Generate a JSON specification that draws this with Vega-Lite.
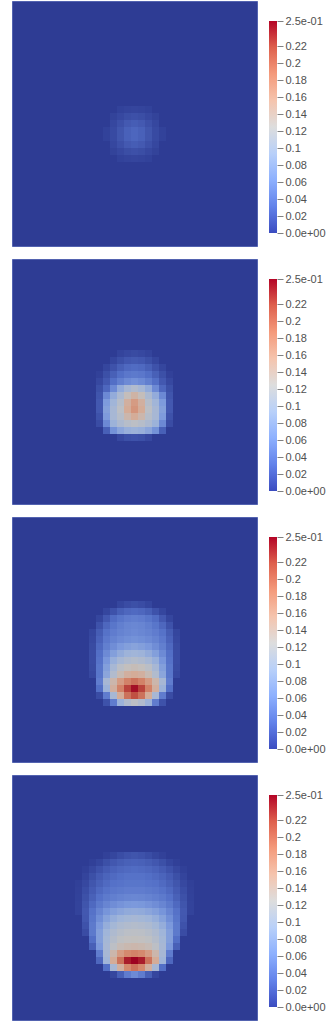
{
"$schema": "https://vega.github.io/schema/vega-lite/v6.json",
"background": "white",
"padding": {"left": 11, "top": 0, "right": 0, "bottom": 0},
"spacing": 11,
"config": {"view": {"stroke": null}},
"datasets": {
"bar": [{"lo": 0, "hi": 0.25}],
"p1": [
{"x":15,"y":15,"v":0.0034},{"x":16,"y":15,"v":0.005},{"x":17,"y":15,"v":0.0056},{"x":18,"y":15,"v":0.005},{"x":19,"y":15,"v":0.0034},
{"x":14,"y":16,"v":0.0039},{"x":15,"y":16,"v":0.0072},{"x":16,"y":16,"v":0.0105},{"x":17,"y":16,"v":0.0119},{"x":18,"y":16,"v":0.0105},{"x":19,"y":16,"v":0.0072},{"x":20,"y":16,"v":0.0039},
{"x":14,"y":17,"v":0.0064},{"x":15,"y":17,"v":0.0119},{"x":16,"y":17,"v":0.0173},{"x":17,"y":17,"v":0.0196},{"x":18,"y":17,"v":0.0173},{"x":19,"y":17,"v":0.0119},{"x":20,"y":17,"v":0.0064},
{"x":13,"y":18,"v":0.0034},{"x":14,"y":18,"v":0.0082},{"x":15,"y":18,"v":0.0153},{"x":16,"y":18,"v":0.022},{"x":17,"y":18,"v":0.025},{"x":18,"y":18,"v":0.022},{"x":19,"y":18,"v":0.0153},{"x":20,"y":18,"v":0.0082},{"x":21,"y":18,"v":0.0034},
{"x":13,"y":19,"v":0.0034},{"x":14,"y":19,"v":0.0082},{"x":15,"y":19,"v":0.0153},{"x":16,"y":19,"v":0.022},{"x":17,"y":19,"v":0.025},{"x":18,"y":19,"v":0.022},{"x":19,"y":19,"v":0.0153},{"x":20,"y":19,"v":0.0082},{"x":21,"y":19,"v":0.0034},
{"x":14,"y":20,"v":0.0064},{"x":15,"y":20,"v":0.0119},{"x":16,"y":20,"v":0.0173},{"x":17,"y":20,"v":0.0196},{"x":18,"y":20,"v":0.0173},{"x":19,"y":20,"v":0.0119},{"x":20,"y":20,"v":0.0064},
{"x":14,"y":21,"v":0.0039},{"x":15,"y":21,"v":0.0072},{"x":16,"y":21,"v":0.0105},{"x":17,"y":21,"v":0.0119},{"x":18,"y":21,"v":0.0105},{"x":19,"y":21,"v":0.0072},{"x":20,"y":21,"v":0.0039},
{"x":15,"y":22,"v":0.0034},{"x":16,"y":22,"v":0.005},{"x":17,"y":22,"v":0.0056},{"x":18,"y":22,"v":0.005},{"x":19,"y":22,"v":0.0034}
],
"p2": [
{"x":15,"y":13,"v":0.0047},{"x":16,"y":13,"v":0.0073},{"x":17,"y":13,"v":0.0087},{"x":18,"y":13,"v":0.0073},{"x":19,"y":13,"v":0.0047},
{"x":14,"y":14,"v":0.006},{"x":15,"y":14,"v":0.0116},{"x":16,"y":14,"v":0.016},{"x":17,"y":14,"v":0.0177},{"x":18,"y":14,"v":0.016},{"x":19,"y":14,"v":0.0116},{"x":20,"y":14,"v":0.006},
{"x":13,"y":15,"v":0.006},{"x":14,"y":15,"v":0.013},{"x":15,"y":15,"v":0.021},{"x":16,"y":15,"v":0.0263},{"x":17,"y":15,"v":0.0281},{"x":18,"y":15,"v":0.0263},{"x":19,"y":15,"v":0.021},{"x":20,"y":15,"v":0.013},{"x":21,"y":15,"v":0.006},
{"x":12,"y":16,"v":0.003},{"x":13,"y":16,"v":0.0116},{"x":14,"y":16,"v":0.021},{"x":15,"y":16,"v":0.03},{"x":16,"y":16,"v":0.0359},{"x":17,"y":16,"v":0.0379},{"x":18,"y":16,"v":0.0359},{"x":19,"y":16,"v":0.03},{"x":20,"y":16,"v":0.021},{"x":21,"y":16,"v":0.0116},{"x":22,"y":16,"v":0.003},
{"x":12,"y":17,"v":0.0073},{"x":13,"y":17,"v":0.0168},{"x":14,"y":17,"v":0.03},{"x":15,"y":17,"v":0.0421},{"x":16,"y":17,"v":0.051},{"x":17,"y":17,"v":0.0557},{"x":18,"y":17,"v":0.051},{"x":19,"y":17,"v":0.0421},{"x":20,"y":17,"v":0.03},{"x":21,"y":17,"v":0.0168},{"x":22,"y":17,"v":0.0073},
{"x":12,"y":18,"v":0.0116},{"x":13,"y":18,"v":0.0254},{"x":14,"y":18,"v":0.051},{"x":15,"y":18,"v":0.0829},{"x":16,"y":18,"v":0.1},{"x":17,"y":18,"v":0.11},{"x":18,"y":18,"v":0.1},{"x":19,"y":18,"v":0.0829},{"x":20,"y":18,"v":0.051},{"x":21,"y":18,"v":0.0254},{"x":22,"y":18,"v":0.0116},
{"x":12,"y":19,"v":0.0145},{"x":13,"y":19,"v":0.05},{"x":14,"y":19,"v":0.0829},{"x":15,"y":19,"v":0.105},{"x":16,"y":19,"v":0.13},{"x":17,"y":19,"v":0.145},{"x":18,"y":19,"v":0.13},{"x":19,"y":19,"v":0.105},{"x":20,"y":19,"v":0.0829},{"x":21,"y":19,"v":0.05},{"x":22,"y":19,"v":0.0145},
{"x":12,"y":20,"v":0.0168},{"x":13,"y":20,"v":0.065},{"x":14,"y":20,"v":0.095},{"x":15,"y":20,"v":0.115},{"x":16,"y":20,"v":0.15},{"x":17,"y":20,"v":0.17},{"x":18,"y":20,"v":0.15},{"x":19,"y":20,"v":0.115},{"x":20,"y":20,"v":0.095},{"x":21,"y":20,"v":0.065},{"x":22,"y":20,"v":0.0168},
{"x":12,"y":21,"v":0.0168},{"x":13,"y":21,"v":0.07},{"x":14,"y":21,"v":0.1},{"x":15,"y":21,"v":0.12},{"x":16,"y":21,"v":0.155},{"x":17,"y":21,"v":0.175},{"x":18,"y":21,"v":0.155},{"x":19,"y":21,"v":0.12},{"x":20,"y":21,"v":0.1},{"x":21,"y":21,"v":0.07},{"x":22,"y":21,"v":0.0168},
{"x":12,"y":22,"v":0.013},{"x":13,"y":22,"v":0.065},{"x":14,"y":22,"v":0.1},{"x":15,"y":22,"v":0.115},{"x":16,"y":22,"v":0.14},{"x":17,"y":22,"v":0.155},{"x":18,"y":22,"v":0.14},{"x":19,"y":22,"v":0.115},{"x":20,"y":22,"v":0.1},{"x":21,"y":22,"v":0.065},{"x":22,"y":22,"v":0.013},
{"x":12,"y":23,"v":0.0094},{"x":13,"y":23,"v":0.05},{"x":14,"y":23,"v":0.09},{"x":15,"y":23,"v":0.105},{"x":16,"y":23,"v":0.115},{"x":17,"y":23,"v":0.12},{"x":18,"y":23,"v":0.115},{"x":19,"y":23,"v":0.105},{"x":20,"y":23,"v":0.09},{"x":21,"y":23,"v":0.05},{"x":22,"y":23,"v":0.0094},
{"x":13,"y":24,"v":0.021},{"x":14,"y":24,"v":0.0569},{"x":15,"y":24,"v":0.076},{"x":16,"y":24,"v":0.087},{"x":17,"y":24,"v":0.09},{"x":18,"y":24,"v":0.087},{"x":19,"y":24,"v":0.076},{"x":20,"y":24,"v":0.0569},{"x":21,"y":24,"v":0.021},
{"x":15,"y":25,"v":0.0073},{"x":16,"y":25,"v":0.0116},{"x":17,"y":25,"v":0.013},{"x":18,"y":25,"v":0.0116},{"x":19,"y":25,"v":0.0073}
],
"p3": [
{"x":15,"y":12,"v":0.006},{"x":16,"y":12,"v":0.0094},{"x":17,"y":12,"v":0.0116},{"x":18,"y":12,"v":0.0094},{"x":19,"y":12,"v":0.006},
{"x":13,"y":13,"v":0.006},{"x":14,"y":13,"v":0.013},{"x":15,"y":13,"v":0.021},{"x":16,"y":13,"v":0.0254},{"x":17,"y":13,"v":0.0272},{"x":18,"y":13,"v":0.0254},{"x":19,"y":13,"v":0.021},{"x":20,"y":13,"v":0.013},{"x":21,"y":13,"v":0.006},
{"x":12,"y":14,"v":0.006},{"x":13,"y":14,"v":0.0168},{"x":14,"y":14,"v":0.0281},{"x":15,"y":14,"v":0.0349},{"x":16,"y":14,"v":0.04},{"x":17,"y":14,"v":0.0421},{"x":18,"y":14,"v":0.04},{"x":19,"y":14,"v":0.0349},{"x":20,"y":14,"v":0.0281},{"x":21,"y":14,"v":0.0168},{"x":22,"y":14,"v":0.006},
{"x":12,"y":15,"v":0.013},{"x":13,"y":15,"v":0.0254},{"x":14,"y":15,"v":0.0349},{"x":15,"y":15,"v":0.0421},{"x":16,"y":15,"v":0.0465},{"x":17,"y":15,"v":0.0487},{"x":18,"y":15,"v":0.0465},{"x":19,"y":15,"v":0.0421},{"x":20,"y":15,"v":0.0349},{"x":21,"y":15,"v":0.0254},{"x":22,"y":15,"v":0.013},
{"x":11,"y":16,"v":0.006},{"x":12,"y":16,"v":0.0193},{"x":13,"y":16,"v":0.032},{"x":14,"y":16,"v":0.04},{"x":15,"y":16,"v":0.0454},{"x":16,"y":16,"v":0.0487},{"x":17,"y":16,"v":0.051},{"x":18,"y":16,"v":0.0487},{"x":19,"y":16,"v":0.0454},{"x":20,"y":16,"v":0.04},{"x":21,"y":16,"v":0.032},{"x":22,"y":16,"v":0.0193},{"x":23,"y":16,"v":0.006},
{"x":11,"y":17,"v":0.0073},{"x":12,"y":17,"v":0.0227},{"x":13,"y":17,"v":0.0369},{"x":14,"y":17,"v":0.0454},{"x":15,"y":17,"v":0.051},{"x":16,"y":17,"v":0.0544},{"x":17,"y":17,"v":0.0569},{"x":18,"y":17,"v":0.0544},{"x":19,"y":17,"v":0.051},{"x":20,"y":17,"v":0.0454},{"x":21,"y":17,"v":0.0369},{"x":22,"y":17,"v":0.0227},{"x":23,"y":17,"v":0.0073},
{"x":11,"y":18,"v":0.0087},{"x":12,"y":18,"v":0.0263},{"x":13,"y":18,"v":0.0421},{"x":14,"y":18,"v":0.0533},{"x":15,"y":18,"v":0.063},{"x":16,"y":18,"v":0.0694},{"x":17,"y":18,"v":0.0732},{"x":18,"y":18,"v":0.0694},{"x":19,"y":18,"v":0.063},{"x":20,"y":18,"v":0.0533},{"x":21,"y":18,"v":0.0421},{"x":22,"y":18,"v":0.0263},{"x":23,"y":18,"v":0.0087},
{"x":11,"y":19,"v":0.0094},{"x":12,"y":19,"v":0.03},{"x":13,"y":19,"v":0.051},{"x":14,"y":19,"v":0.0694},{"x":15,"y":19,"v":0.0829},{"x":16,"y":19,"v":0.092},{"x":17,"y":19,"v":0.095},{"x":18,"y":19,"v":0.092},{"x":19,"y":19,"v":0.0829},{"x":20,"y":19,"v":0.0694},{"x":21,"y":19,"v":0.051},{"x":22,"y":19,"v":0.03},{"x":23,"y":19,"v":0.0094},
{"x":11,"y":20,"v":0.0094},{"x":12,"y":20,"v":0.032},{"x":13,"y":20,"v":0.0605},{"x":14,"y":20,"v":0.087},{"x":15,"y":20,"v":0.1},{"x":16,"y":20,"v":0.108},{"x":17,"y":20,"v":0.112},{"x":18,"y":20,"v":0.108},{"x":19,"y":20,"v":0.1},{"x":20,"y":20,"v":0.087},{"x":21,"y":20,"v":0.0605},{"x":22,"y":20,"v":0.032},{"x":23,"y":20,"v":0.0094},
{"x":11,"y":21,"v":0.0087},{"x":12,"y":21,"v":0.0349},{"x":13,"y":21,"v":0.0694},{"x":14,"y":21,"v":0.1},{"x":15,"y":21,"v":0.118},{"x":16,"y":21,"v":0.128},{"x":17,"y":21,"v":0.132},{"x":18,"y":21,"v":0.128},{"x":19,"y":21,"v":0.118},{"x":20,"y":21,"v":0.1},{"x":21,"y":21,"v":0.0694},{"x":22,"y":21,"v":0.0349},{"x":23,"y":21,"v":0.0087},
{"x":11,"y":22,"v":0.0073},{"x":12,"y":22,"v":0.0349},{"x":13,"y":22,"v":0.076},{"x":14,"y":22,"v":0.11},{"x":15,"y":22,"v":0.135},{"x":16,"y":22,"v":0.15},{"x":17,"y":22,"v":0.155},{"x":18,"y":22,"v":0.15},{"x":19,"y":22,"v":0.135},{"x":20,"y":22,"v":0.11},{"x":21,"y":22,"v":0.076},{"x":22,"y":22,"v":0.0349},{"x":23,"y":22,"v":0.0073},
{"x":12,"y":23,"v":0.04},{"x":13,"y":23,"v":0.1},{"x":14,"y":23,"v":0.14},{"x":15,"y":23,"v":0.17},{"x":16,"y":23,"v":0.19},{"x":17,"y":23,"v":0.2},{"x":18,"y":23,"v":0.19},{"x":19,"y":23,"v":0.17},{"x":20,"y":23,"v":0.14},{"x":21,"y":23,"v":0.1},{"x":22,"y":23,"v":0.04},
{"x":12,"y":24,"v":0.03},{"x":13,"y":24,"v":0.09},{"x":14,"y":24,"v":0.15},{"x":15,"y":24,"v":0.19},{"x":16,"y":24,"v":0.225},{"x":17,"y":24,"v":0.245},{"x":18,"y":24,"v":0.225},{"x":19,"y":24,"v":0.19},{"x":20,"y":24,"v":0.15},{"x":21,"y":24,"v":0.09},{"x":22,"y":24,"v":0.03},
{"x":12,"y":25,"v":0.0094},{"x":13,"y":25,"v":0.04},{"x":14,"y":25,"v":0.1},{"x":15,"y":25,"v":0.155},{"x":16,"y":25,"v":0.2},{"x":17,"y":25,"v":0.22},{"x":18,"y":25,"v":0.2},{"x":19,"y":25,"v":0.155},{"x":20,"y":25,"v":0.1},{"x":21,"y":25,"v":0.04},{"x":22,"y":25,"v":0.0094},
{"x":13,"y":26,"v":0.013},{"x":14,"y":26,"v":0.04},{"x":15,"y":26,"v":0.09},{"x":16,"y":26,"v":0.11},{"x":17,"y":26,"v":0.12},{"x":18,"y":26,"v":0.11},{"x":19,"y":26,"v":0.09},{"x":20,"y":26,"v":0.04},{"x":21,"y":26,"v":0.013}
],
"p4": [
{"x":13,"y":11,"v":0.003},{"x":14,"y":11,"v":0.006},{"x":15,"y":11,"v":0.01},{"x":16,"y":11,"v":0.013},{"x":17,"y":11,"v":0.0145},{"x":18,"y":11,"v":0.013},{"x":19,"y":11,"v":0.01},{"x":20,"y":11,"v":0.006},{"x":21,"y":11,"v":0.003},
{"x":11,"y":12,"v":0.0024},{"x":12,"y":12,"v":0.006},{"x":13,"y":12,"v":0.0116},{"x":14,"y":12,"v":0.016},{"x":15,"y":12,"v":0.0193},{"x":16,"y":12,"v":0.0218},{"x":17,"y":12,"v":0.0227},{"x":18,"y":12,"v":0.0218},{"x":19,"y":12,"v":0.0193},{"x":20,"y":12,"v":0.016},{"x":21,"y":12,"v":0.0116},{"x":22,"y":12,"v":0.006},{"x":23,"y":12,"v":0.0024},
{"x":10,"y":13,"v":0.0024},{"x":11,"y":13,"v":0.0073},{"x":12,"y":13,"v":0.013},{"x":13,"y":13,"v":0.0185},{"x":14,"y":13,"v":0.0227},{"x":15,"y":13,"v":0.0254},{"x":16,"y":13,"v":0.0272},{"x":17,"y":13,"v":0.0281},{"x":18,"y":13,"v":0.0272},{"x":19,"y":13,"v":0.0254},{"x":20,"y":13,"v":0.0227},{"x":21,"y":13,"v":0.0185},{"x":22,"y":13,"v":0.013},{"x":23,"y":13,"v":0.0073},{"x":24,"y":13,"v":0.0024},
{"x":10,"y":14,"v":0.0047},{"x":11,"y":14,"v":0.0116},{"x":12,"y":14,"v":0.0185},{"x":13,"y":14,"v":0.0236},{"x":14,"y":14,"v":0.0272},{"x":15,"y":14,"v":0.03},{"x":16,"y":14,"v":0.032},{"x":17,"y":14,"v":0.032},{"x":18,"y":14,"v":0.032},{"x":19,"y":14,"v":0.03},{"x":20,"y":14,"v":0.0272},{"x":21,"y":14,"v":0.0236},{"x":22,"y":14,"v":0.0185},{"x":23,"y":14,"v":0.0116},{"x":24,"y":14,"v":0.0047},
{"x":9,"y":15,"v":0.0024},{"x":10,"y":15,"v":0.0073},{"x":11,"y":15,"v":0.0153},{"x":12,"y":15,"v":0.0218},{"x":13,"y":15,"v":0.0272},{"x":14,"y":15,"v":0.031},{"x":15,"y":15,"v":0.0329},{"x":16,"y":15,"v":0.0349},{"x":17,"y":15,"v":0.0349},{"x":18,"y":15,"v":0.0349},{"x":19,"y":15,"v":0.0329},{"x":20,"y":15,"v":0.031},{"x":21,"y":15,"v":0.0272},{"x":22,"y":15,"v":0.0218},{"x":23,"y":15,"v":0.0153},{"x":24,"y":15,"v":0.0073},{"x":25,"y":15,"v":0.0024},
{"x":9,"y":16,"v":0.003},{"x":10,"y":16,"v":0.01},{"x":11,"y":16,"v":0.0185},{"x":12,"y":16,"v":0.0263},{"x":13,"y":16,"v":0.032},{"x":14,"y":16,"v":0.0359},{"x":15,"y":16,"v":0.0379},{"x":16,"y":16,"v":0.04},{"x":17,"y":16,"v":0.04},{"x":18,"y":16,"v":0.04},{"x":19,"y":16,"v":0.0379},{"x":20,"y":16,"v":0.0359},{"x":21,"y":16,"v":0.032},{"x":22,"y":16,"v":0.0263},{"x":23,"y":16,"v":0.0185},{"x":24,"y":16,"v":0.01},{"x":25,"y":16,"v":0.003},
{"x":9,"y":17,"v":0.0036},{"x":10,"y":17,"v":0.0123},{"x":11,"y":17,"v":0.0218},{"x":12,"y":17,"v":0.031},{"x":13,"y":17,"v":0.0379},{"x":14,"y":17,"v":0.0421},{"x":15,"y":17,"v":0.0454},{"x":16,"y":17,"v":0.0476},{"x":17,"y":17,"v":0.0487},{"x":18,"y":17,"v":0.0476},{"x":19,"y":17,"v":0.0454},{"x":20,"y":17,"v":0.0421},{"x":21,"y":17,"v":0.0379},{"x":22,"y":17,"v":0.031},{"x":23,"y":17,"v":0.0218},{"x":24,"y":17,"v":0.0123},{"x":25,"y":17,"v":0.0036},
{"x":9,"y":18,"v":0.0042},{"x":10,"y":18,"v":0.0145},{"x":11,"y":18,"v":0.0263},{"x":12,"y":18,"v":0.0379},{"x":13,"y":18,"v":0.0465},{"x":14,"y":18,"v":0.0533},{"x":15,"y":18,"v":0.0581},{"x":16,"y":18,"v":0.0617},{"x":17,"y":18,"v":0.063},{"x":18,"y":18,"v":0.0617},{"x":19,"y":18,"v":0.0581},{"x":20,"y":18,"v":0.0533},{"x":21,"y":18,"v":0.0465},{"x":22,"y":18,"v":0.0379},{"x":23,"y":18,"v":0.0263},{"x":24,"y":18,"v":0.0145},{"x":25,"y":18,"v":0.0042},
{"x":9,"y":19,"v":0.0042},{"x":10,"y":19,"v":0.0168},{"x":11,"y":19,"v":0.032},{"x":12,"y":19,"v":0.0465},{"x":13,"y":19,"v":0.0593},{"x":14,"y":19,"v":0.0694},{"x":15,"y":19,"v":0.076},{"x":16,"y":19,"v":0.0815},{"x":17,"y":19,"v":0.0829},{"x":18,"y":19,"v":0.0815},{"x":19,"y":19,"v":0.076},{"x":20,"y":19,"v":0.0694},{"x":21,"y":19,"v":0.0593},{"x":22,"y":19,"v":0.0465},{"x":23,"y":19,"v":0.032},{"x":24,"y":19,"v":0.0168},{"x":25,"y":19,"v":0.0042},
{"x":10,"y":20,"v":0.016},{"x":11,"y":20,"v":0.0349},{"x":12,"y":20,"v":0.0544},{"x":13,"y":20,"v":0.072},{"x":14,"y":20,"v":0.0857},{"x":15,"y":20,"v":0.094},{"x":16,"y":20,"v":0.098},{"x":17,"y":20,"v":0.1},{"x":18,"y":20,"v":0.098},{"x":19,"y":20,"v":0.094},{"x":20,"y":20,"v":0.0857},{"x":21,"y":20,"v":0.072},{"x":22,"y":20,"v":0.0544},{"x":23,"y":20,"v":0.0349},{"x":24,"y":20,"v":0.016},
{"x":10,"y":21,"v":0.013},{"x":11,"y":21,"v":0.0379},{"x":12,"y":21,"v":0.063},{"x":13,"y":21,"v":0.0843},{"x":14,"y":21,"v":0.098},{"x":15,"y":21,"v":0.106},{"x":16,"y":21,"v":0.11},{"x":17,"y":21,"v":0.112},{"x":18,"y":21,"v":0.11},{"x":19,"y":21,"v":0.106},{"x":20,"y":21,"v":0.098},{"x":21,"y":21,"v":0.0843},{"x":22,"y":21,"v":0.063},{"x":23,"y":21,"v":0.0379},{"x":24,"y":21,"v":0.013},
{"x":10,"y":22,"v":0.0094},{"x":11,"y":22,"v":0.0379},{"x":12,"y":22,"v":0.0694},{"x":13,"y":22,"v":0.094},{"x":14,"y":22,"v":0.107},{"x":15,"y":22,"v":0.115},{"x":16,"y":22,"v":0.119},{"x":17,"y":22,"v":0.12},{"x":18,"y":22,"v":0.119},{"x":19,"y":22,"v":0.115},{"x":20,"y":22,"v":0.107},{"x":21,"y":22,"v":0.094},{"x":22,"y":22,"v":0.0694},{"x":23,"y":22,"v":0.0379},{"x":24,"y":22,"v":0.0094},
{"x":11,"y":23,"v":0.03},{"x":12,"y":23,"v":0.0694},{"x":13,"y":23,"v":0.098},{"x":14,"y":23,"v":0.113},{"x":15,"y":23,"v":0.122},{"x":16,"y":23,"v":0.126},{"x":17,"y":23,"v":0.127},{"x":18,"y":23,"v":0.126},{"x":19,"y":23,"v":0.122},{"x":20,"y":23,"v":0.113},{"x":21,"y":23,"v":0.098},{"x":22,"y":23,"v":0.0694},{"x":23,"y":23,"v":0.03},
{"x":11,"y":24,"v":0.021},{"x":12,"y":24,"v":0.063},{"x":13,"y":24,"v":0.1},{"x":14,"y":24,"v":0.12},{"x":15,"y":24,"v":0.133},{"x":16,"y":24,"v":0.138},{"x":17,"y":24,"v":0.14},{"x":18,"y":24,"v":0.138},{"x":19,"y":24,"v":0.133},{"x":20,"y":24,"v":0.12},{"x":21,"y":24,"v":0.1},{"x":22,"y":24,"v":0.063},{"x":23,"y":24,"v":0.021},
{"x":12,"y":25,"v":0.04},{"x":13,"y":25,"v":0.1},{"x":14,"y":25,"v":0.14},{"x":15,"y":25,"v":0.17},{"x":16,"y":25,"v":0.185},{"x":17,"y":25,"v":0.19},{"x":18,"y":25,"v":0.185},{"x":19,"y":25,"v":0.17},{"x":20,"y":25,"v":0.14},{"x":21,"y":25,"v":0.1},{"x":22,"y":25,"v":0.04},
{"x":12,"y":26,"v":0.0254},{"x":13,"y":26,"v":0.095},{"x":14,"y":26,"v":0.155},{"x":15,"y":26,"v":0.2},{"x":16,"y":26,"v":0.24},{"x":17,"y":26,"v":0.25},{"x":18,"y":26,"v":0.24},{"x":19,"y":26,"v":0.2},{"x":20,"y":26,"v":0.155},{"x":21,"y":26,"v":0.095},{"x":22,"y":26,"v":0.0254},
{"x":13,"y":27,"v":0.03},{"x":14,"y":27,"v":0.1},{"x":15,"y":27,"v":0.15},{"x":16,"y":27,"v":0.185},{"x":17,"y":27,"v":0.2},{"x":18,"y":27,"v":0.185},{"x":19,"y":27,"v":0.15},{"x":20,"y":27,"v":0.1},{"x":21,"y":27,"v":0.03},
{"x":14,"y":28,"v":0.006},{"x":15,"y":28,"v":0.021},{"x":16,"y":28,"v":0.04},{"x":17,"y":28,"v":0.051},{"x":18,"y":28,"v":0.04},{"x":19,"y":28,"v":0.021},{"x":20,"y":28,"v":0.006}
]
},
"vconcat": [
{"hconcat": [
{"width": 245, "height": 245, "data": {"name": "p1"},
 "view": {"fill": "#2e3c94", "stroke": "#5363b0", "strokeWidth": 1},
 "mark": {"type": "rect"},
 "encoding": {
  "x": {"field": "x", "type": "ordinal", "axis": null, "scale": {"domain": [0,1,2,3,4,5,6,7,8,9,10,11,12,13,14,15,16,17,18,19,20,21,22,23,24,25,26,27,28,29,30,31,32,33,34], "paddingInner": 0, "paddingOuter": 0}},
  "y": {"field": "y", "type": "ordinal", "axis": null, "scale": {"domain": [0,1,2,3,4,5,6,7,8,9,10,11,12,13,14,15,16,17,18,19,20,21,22,23,24,25,26,27,28,29,30,31,32,33,34], "paddingInner": 0, "paddingOuter": 0}},
  "color": {"field": "v", "type": "quantitative", "legend": null, "scale": {"type": "linear", "domain": [0,0.03125,0.0625,0.09375,0.125,0.15625,0.1875,0.21875,0.25], "range": ["#2e3c94","#5571c8","#7b99dc","#a0b5d9","#c1c1c1","#d5ab96","#d4866b","#c15443","#9d0321"], "interpolate": "rgb", "clamp": true}}
 }},
{"width": 8, "height": 245, "data": {"name": "bar"},
 "mark": {"type": "rect", "fill": {"gradient": "linear", "x1": 0, "y1": 1, "x2": 0, "y2": 0, "stops": [{"offset": 0, "color": "#3b4cc0"}, {"offset": 0.125, "color": "#6282ea"}, {"offset": 0.25, "color": "#8db0fe"}, {"offset": 0.375, "color": "#b8d0f9"}, {"offset": 0.5, "color": "#dddddd"}, {"offset": 0.625, "color": "#f5c4ad"}, {"offset": 0.75, "color": "#f49a7b"}, {"offset": 0.875, "color": "#de604d"}, {"offset": 1, "color": "#b40426"}]}},
 "encoding": {
  "y": {"field": "lo", "type": "quantitative", "scale": {"domain": [0, 0.25], "range": [232, 20], "nice": false, "zero": false},
   "axis": {"orient": "right", "title": null, "grid": false, "domain": false, "values": [0,0.02,0.04,0.06,0.08,0.1,0.12,0.14,0.16,0.18,0.2,0.22,0.25], "format": "~g", "labelExpr": "datum.value === 0 ? '0.0e+00' : datum.value === 0.25 ? '2.5e-01' : datum.label", "tickSize": 6, "tickColor": "#808080", "labelPadding": 2, "labelFont": "Liberation Sans", "labelFontSize": 11, "labelColor": "#505050", "labelOverlap": false, "labelFlush": false, "labelBound": false}},
  "y2": {"field": "hi"}
 }}
], "spacing": 11},
{"hconcat": [
{"width": 245, "height": 245, "data": {"name": "p2"},
 "view": {"fill": "#2e3c94", "stroke": "#5363b0", "strokeWidth": 1},
 "mark": {"type": "rect"},
 "encoding": {
  "x": {"field": "x", "type": "ordinal", "axis": null, "scale": {"domain": [0,1,2,3,4,5,6,7,8,9,10,11,12,13,14,15,16,17,18,19,20,21,22,23,24,25,26,27,28,29,30,31,32,33,34], "paddingInner": 0, "paddingOuter": 0}},
  "y": {"field": "y", "type": "ordinal", "axis": null, "scale": {"domain": [0,1,2,3,4,5,6,7,8,9,10,11,12,13,14,15,16,17,18,19,20,21,22,23,24,25,26,27,28,29,30,31,32,33,34], "paddingInner": 0, "paddingOuter": 0}},
  "color": {"field": "v", "type": "quantitative", "legend": null, "scale": {"type": "linear", "domain": [0,0.03125,0.0625,0.09375,0.125,0.15625,0.1875,0.21875,0.25], "range": ["#2e3c94","#5571c8","#7b99dc","#a0b5d9","#c1c1c1","#d5ab96","#d4866b","#c15443","#9d0321"], "interpolate": "rgb", "clamp": true}}
 }},
{"width": 8, "height": 245, "data": {"name": "bar"},
 "mark": {"type": "rect", "fill": {"gradient": "linear", "x1": 0, "y1": 1, "x2": 0, "y2": 0, "stops": [{"offset": 0, "color": "#3b4cc0"}, {"offset": 0.125, "color": "#6282ea"}, {"offset": 0.25, "color": "#8db0fe"}, {"offset": 0.375, "color": "#b8d0f9"}, {"offset": 0.5, "color": "#dddddd"}, {"offset": 0.625, "color": "#f5c4ad"}, {"offset": 0.75, "color": "#f49a7b"}, {"offset": 0.875, "color": "#de604d"}, {"offset": 1, "color": "#b40426"}]}},
 "encoding": {
  "y": {"field": "lo", "type": "quantitative", "scale": {"domain": [0, 0.25], "range": [232, 20], "nice": false, "zero": false},
   "axis": {"orient": "right", "title": null, "grid": false, "domain": false, "values": [0,0.02,0.04,0.06,0.08,0.1,0.12,0.14,0.16,0.18,0.2,0.22,0.25], "format": "~g", "labelExpr": "datum.value === 0 ? '0.0e+00' : datum.value === 0.25 ? '2.5e-01' : datum.label", "tickSize": 6, "tickColor": "#808080", "labelPadding": 2, "labelFont": "Liberation Sans", "labelFontSize": 11, "labelColor": "#505050", "labelOverlap": false, "labelFlush": false, "labelBound": false}},
  "y2": {"field": "hi"}
 }}
], "spacing": 11},
{"hconcat": [
{"width": 245, "height": 245, "data": {"name": "p3"},
 "view": {"fill": "#2e3c94", "stroke": "#5363b0", "strokeWidth": 1},
 "mark": {"type": "rect"},
 "encoding": {
  "x": {"field": "x", "type": "ordinal", "axis": null, "scale": {"domain": [0,1,2,3,4,5,6,7,8,9,10,11,12,13,14,15,16,17,18,19,20,21,22,23,24,25,26,27,28,29,30,31,32,33,34], "paddingInner": 0, "paddingOuter": 0}},
  "y": {"field": "y", "type": "ordinal", "axis": null, "scale": {"domain": [0,1,2,3,4,5,6,7,8,9,10,11,12,13,14,15,16,17,18,19,20,21,22,23,24,25,26,27,28,29,30,31,32,33,34], "paddingInner": 0, "paddingOuter": 0}},
  "color": {"field": "v", "type": "quantitative", "legend": null, "scale": {"type": "linear", "domain": [0,0.03125,0.0625,0.09375,0.125,0.15625,0.1875,0.21875,0.25], "range": ["#2e3c94","#5571c8","#7b99dc","#a0b5d9","#c1c1c1","#d5ab96","#d4866b","#c15443","#9d0321"], "interpolate": "rgb", "clamp": true}}
 }},
{"width": 8, "height": 245, "data": {"name": "bar"},
 "mark": {"type": "rect", "fill": {"gradient": "linear", "x1": 0, "y1": 1, "x2": 0, "y2": 0, "stops": [{"offset": 0, "color": "#3b4cc0"}, {"offset": 0.125, "color": "#6282ea"}, {"offset": 0.25, "color": "#8db0fe"}, {"offset": 0.375, "color": "#b8d0f9"}, {"offset": 0.5, "color": "#dddddd"}, {"offset": 0.625, "color": "#f5c4ad"}, {"offset": 0.75, "color": "#f49a7b"}, {"offset": 0.875, "color": "#de604d"}, {"offset": 1, "color": "#b40426"}]}},
 "encoding": {
  "y": {"field": "lo", "type": "quantitative", "scale": {"domain": [0, 0.25], "range": [232, 20], "nice": false, "zero": false},
   "axis": {"orient": "right", "title": null, "grid": false, "domain": false, "values": [0,0.02,0.04,0.06,0.08,0.1,0.12,0.14,0.16,0.18,0.2,0.22,0.25], "format": "~g", "labelExpr": "datum.value === 0 ? '0.0e+00' : datum.value === 0.25 ? '2.5e-01' : datum.label", "tickSize": 6, "tickColor": "#808080", "labelPadding": 2, "labelFont": "Liberation Sans", "labelFontSize": 11, "labelColor": "#505050", "labelOverlap": false, "labelFlush": false, "labelBound": false}},
  "y2": {"field": "hi"}
 }}
], "spacing": 11},
{"hconcat": [
{"width": 245, "height": 245, "data": {"name": "p4"},
 "view": {"fill": "#2e3c94", "stroke": "#5363b0", "strokeWidth": 1},
 "mark": {"type": "rect"},
 "encoding": {
  "x": {"field": "x", "type": "ordinal", "axis": null, "scale": {"domain": [0,1,2,3,4,5,6,7,8,9,10,11,12,13,14,15,16,17,18,19,20,21,22,23,24,25,26,27,28,29,30,31,32,33,34], "paddingInner": 0, "paddingOuter": 0}},
  "y": {"field": "y", "type": "ordinal", "axis": null, "scale": {"domain": [0,1,2,3,4,5,6,7,8,9,10,11,12,13,14,15,16,17,18,19,20,21,22,23,24,25,26,27,28,29,30,31,32,33,34], "paddingInner": 0, "paddingOuter": 0}},
  "color": {"field": "v", "type": "quantitative", "legend": null, "scale": {"type": "linear", "domain": [0,0.03125,0.0625,0.09375,0.125,0.15625,0.1875,0.21875,0.25], "range": ["#2e3c94","#5571c8","#7b99dc","#a0b5d9","#c1c1c1","#d5ab96","#d4866b","#c15443","#9d0321"], "interpolate": "rgb", "clamp": true}}
 }},
{"width": 8, "height": 245, "data": {"name": "bar"},
 "mark": {"type": "rect", "fill": {"gradient": "linear", "x1": 0, "y1": 1, "x2": 0, "y2": 0, "stops": [{"offset": 0, "color": "#3b4cc0"}, {"offset": 0.125, "color": "#6282ea"}, {"offset": 0.25, "color": "#8db0fe"}, {"offset": 0.375, "color": "#b8d0f9"}, {"offset": 0.5, "color": "#dddddd"}, {"offset": 0.625, "color": "#f5c4ad"}, {"offset": 0.75, "color": "#f49a7b"}, {"offset": 0.875, "color": "#de604d"}, {"offset": 1, "color": "#b40426"}]}},
 "encoding": {
  "y": {"field": "lo", "type": "quantitative", "scale": {"domain": [0, 0.25], "range": [232, 20], "nice": false, "zero": false},
   "axis": {"orient": "right", "title": null, "grid": false, "domain": false, "values": [0,0.02,0.04,0.06,0.08,0.1,0.12,0.14,0.16,0.18,0.2,0.22,0.25], "format": "~g", "labelExpr": "datum.value === 0 ? '0.0e+00' : datum.value === 0.25 ? '2.5e-01' : datum.label", "tickSize": 6, "tickColor": "#808080", "labelPadding": 2, "labelFont": "Liberation Sans", "labelFontSize": 11, "labelColor": "#505050", "labelOverlap": false, "labelFlush": false, "labelBound": false}},
  "y2": {"field": "hi"}
 }}
], "spacing": 11}
]
}
